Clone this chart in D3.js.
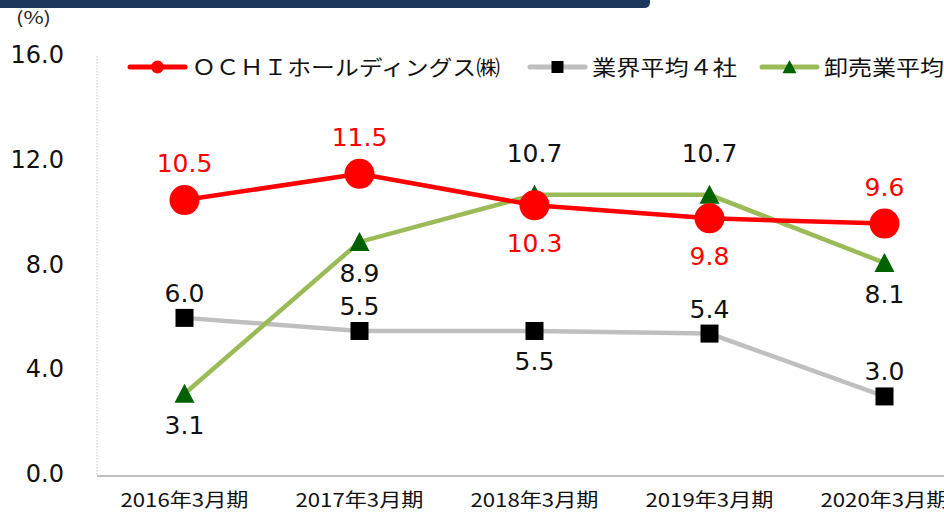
<!DOCTYPE html>
<html>
<head>
<meta charset="utf-8">
<script src="https://cdn.jsdelivr.net/npm/d3@7"></script>
<style>
  body { margin: 0; background: #fff; overflow: hidden; }
  svg { display: block; }
</style>
</head>
<body>
<svg class="chart" width="944" height="514"></svg>
<script>
const categories = ["2016年3月期", "2017年3月期", "2018年3月期", "2019年3月期", "2020年3月期"];
const ochiValues = [10.5, 11.5, 10.3, 9.8, 9.6];
const industryValues = [6.0, 5.5, 5.5, 5.4, 3.0];
const wholesaleValues = [3.1, 8.9, 10.7, 10.7, 8.1];
const yTicks = [0, 4, 8, 12, 16];
// label placement: true = above the point
const ochiAbove = [true, true, false, false, true];
const industryAbove = [true, true, false, true, true];
const wholesaleAbove = [false, false, true, true, false];

const svg = d3.select(".chart");
const width = 944;
const height = 514;

const numFont = "'DejaVu Sans', Verdana, sans-serif";
const jpFont = "'Noto Sans CJK JP', sans-serif";

// header bar across the top
svg.append("path")
  .attr("d", "M0,0 H650 V2 Q650,8 644,8 H0 Z")
  .attr("fill", "#1c375e");

svg.append("text")
  .attr("x", 16).attr("y", 24)
  .attr("font-family", jpFont)
  .attr("font-size", 17)
  .attr("textLength", 35)
  .attr("lengthAdjust", "spacingAndGlyphs")
  .attr("fill", "#222")
  .text("(%)");

const x = d3.scaleBand().domain(categories).range([97, 972]);
const y = d3.scaleLinear().domain([0, 16]).range([475, 56]);
const cx = (d) => x(d) + x.bandwidth() / 2;

// left axis (dotted) and bottom axis
svg.append("line")
  .attr("x1", 97).attr("x2", 97)
  .attr("y1", y(16)).attr("y2", y(0))
  .attr("stroke", "#c8c8c8")
  .attr("stroke-dasharray", "1.5,1.5");

svg.append("line")
  .attr("x1", 97).attr("x2", width)
  .attr("y1", y(0) + 1).attr("y2", y(0) + 1)
  .attr("stroke", "#bfbfbf")
  .attr("stroke-width", 2);

// y tick labels
svg.append("g")
  .selectAll("text")
  .data(yTicks)
  .join("text")
  .attr("x", 64)
  .attr("y", (d) => y(d) + 7)
  .attr("text-anchor", "end")
  .attr("font-family", numFont)
  .attr("font-size", 24)
  .attr("fill", "#111")
  .text((d) => d.toFixed(1));

// x labels
svg.append("g")
  .selectAll("text")
  .data(categories)
  .join("text")
  .attr("x", (d) => cx(d))
  .attr("y", 507)
  .attr("text-anchor", "middle")
  .attr("font-family", jpFont)
  .attr("font-size", 19)
  .attr("textLength", 128)
  .attr("lengthAdjust", "spacingAndGlyphs")
  .attr("fill", "#111")
  .text((d) => d);

const line = d3.line()
  .x((d, i) => cx(categories[i]))
  .y((d) => y(d));

function drawSeries(values, lineColor, markerFn, labelColor, above, offsets) {
  const g = svg.append("g");
  g.append("path")
    .attr("d", line(values))
    .attr("fill", "none")
    .attr("stroke", lineColor)
    .attr("stroke-width", 4.5);

  values.forEach((v, i) => {
    markerFn(g, cx(categories[i]), y(v));
  });

  g.selectAll("text.lbl")
    .data(values)
    .join("text")
    .attr("class", "lbl")
    .attr("x", (d, i) => cx(categories[i]))
    .attr("y", (d, i) => y(d) + (above[i] ? offsets[0] : offsets[1]))
    .attr("text-anchor", "middle")
    .attr("font-family", numFont)
    .attr("font-size", 25)
    .attr("fill", labelColor)
    .text((d) => d.toFixed(1));
}

const circleMarker = (g, px, py, r = 15) =>
  g.append("circle").attr("cx", px).attr("cy", py).attr("r", r).attr("fill", "#ff0000");
const squareMarker = (g, px, py, s = 18) =>
  g.append("rect").attr("x", px - s / 2).attr("y", py - s / 2)
    .attr("width", s).attr("height", s).attr("fill", "#000");
const triMarker = (g, px, py, s = 20) =>
  g.append("path")
    .attr("d", `M${px},${py - s * 0.5} L${px + s / 2},${py + s * 0.45} L${px - s / 2},${py + s * 0.45} Z`)
    .attr("fill", "#006100");

drawSeries(industryValues, "#bfbfbf", squareMarker, "#111", industryAbove, [-16, 39]);
drawSeries(wholesaleValues, "#9bbb59", triMarker, "#111", wholesaleAbove, [-33, 40]);
drawSeries(ochiValues, "#ff0000", circleMarker, "#ff0000", ochiAbove, [-28, 47]);

// legend
const legend = svg.append("g");
const ly = 67;
const items = [
  { x0: 130, label: "ＯＣＨＩホールディングス㈱", len: 308, color: "#ff0000", marker: (g, px) => circleMarker(g, px, ly, 6.5) },
  { x0: 530, label: "業界平均４社", len: 145, color: "#bfbfbf", marker: (g, px) => squareMarker(g, px, ly, 12) },
  { x0: 762, label: "卸売業平均", len: 120, color: "#9bbb59", marker: (g, px) => triMarker(g, px, ly, 14) }
];
items.forEach((it) => {
  legend.append("line")
    .attr("x1", it.x0).attr("x2", it.x0 + 55)
    .attr("y1", ly).attr("y2", ly)
    .attr("stroke", it.color)
    .attr("stroke-width", 5)
    .attr("stroke-linecap", "round");
  it.marker(legend, it.x0 + 27.5);
  legend.append("text")
    .attr("x", it.x0 + 62)
    .attr("y", ly + 8)
    .attr("font-family", jpFont)
    .attr("font-size", 21)
    .attr("textLength", it.len)
    .attr("lengthAdjust", "spacingAndGlyphs")
    .attr("fill", "#111")
    .text(it.label);
});
</script>
</body>
</html>
